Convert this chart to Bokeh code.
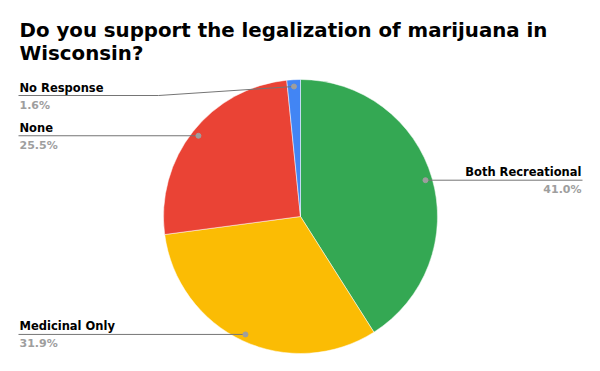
import math
from bokeh.plotting import figure
from bokeh.models import Range1d, ColumnDataSource, Label
from bokeh.embed import file_html
from bokeh.resources import INLINE

categories = ["Both Recreational", "Medicinal Only", "None", "No Response"]
shares = [41.0, 31.9, 25.5, 1.6]
colors = ["#34A853", "#FBBC04", "#EA4335", "#4285F4"]
label_side = ["right", "left", "left", "left"]
title_lines = ["Do you support the legalization of marijuana in", "Wisconsin?"]

W, H = 600, 371
cx, cy, R = 300, H - 216, 137
FONT = "DejaVu Sans"

p = figure(width=W, height=H, output_backend="svg", toolbar_location=None,
           x_range=Range1d(0, W), y_range=Range1d(0, H), min_border=0)
p.axis.visible = False
p.grid.visible = False
p.outline_line_color = None
p.background_fill_color = "white"

total = sum(shares)
starts, ends, mids = [], [], []
cum = 0.0
for s in shares:
    a0 = math.pi / 2 - 2 * math.pi * cum / total
    cum += s
    a1 = math.pi / 2 - 2 * math.pi * cum / total
    starts.append(a0)
    ends.append(a1)
    mids.append((a0 + a1) / 2)

src = ColumnDataSource(dict(start=starts, end=ends, color=colors))
p.wedge(x=cx, y=cy, radius=R, start_angle="start", end_angle="end",
        direction="clock", fill_color="color", line_color="white", line_width=0.5, source=src)

for name, s, m, side in zip(categories, shares, mids, label_side):
    dx = cx + 0.95 * R * math.cos(m)
    dy = cy + 0.95 * R * math.sin(m)
    ly = dy
    if side == "right":
        xe = 582
        p.line([dx, xe], [ly, ly], line_color="#757575", line_width=1)
        tx, align = 581, "right"
    else:
        xe = 18
        if dy > H - 100:  # near the top: bend line
            ly = dy - 9
            p.line([xe, 158, dx], [ly, ly, dy], line_color="#757575", line_width=1)
        else:
            p.line([xe, dx], [ly, ly], line_color="#757575", line_width=1)
        tx, align = 19, "left"
    p.scatter([dx], [dy], size=5, color="#9e9e9e")
    p.add_layout(Label(x=tx, y=ly + 1, text=name, text_font=FONT, text_font_style="bold",
                       text_font_size="11.5px", text_color="#000000", text_align=align,
                       text_baseline="bottom"))
    p.add_layout(Label(x=tx, y=ly - 3, text=f"{s:.1f}%", text_font=FONT, text_font_style="bold",
                       text_font_size="11px", text_color="#9e9e9e", text_align=align,
                       text_baseline="top"))

for i, t in enumerate(title_lines):
    p.add_layout(Label(x=19, y=H - 18 - 23 * i, text=t, text_font=FONT, text_font_style="bold",
                       text_font_size="19.8px", text_color="#000000", text_baseline="top"))

open("out.html", "w").write(file_html(p, INLINE))
